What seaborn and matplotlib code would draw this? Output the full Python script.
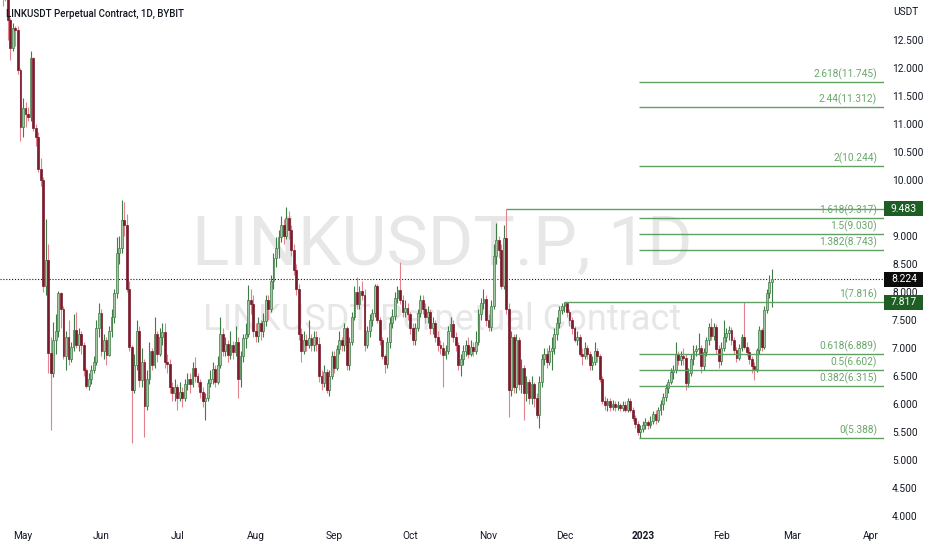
import matplotlib
matplotlib.use("Agg")
import matplotlib.pyplot as plt
import matplotlib.transforms as mtrans
from matplotlib.patches import Rectangle
from matplotlib.ticker import FormatStrFormatter
import numpy as np
import pandas as pd
import seaborn as sns

# daily candles, LINKUSDT perpetual, from 2022-04-22
dates = pd.date_range("2022-04-22", periods=306, freq="D")
first_open = 14.0
closes = [
    13.9, 13.8, 13.4, 12.85, 12.35, 12.72, 12.68, 11.97, 10.95, 11.29,
    11.18, 11.12, 12.18, 10.93, 10.77, 10.2, 10.0, 8.1, 8.57, 6.91,
    6.55, 7.14, 7.3, 7.98, 7.7, 6.85, 7.2, 6.8, 7.02, 7.32,
    7.05, 7.25, 7.05, 6.6, 6.32, 6.45, 6.6, 6.75, 7.35, 7.62,
    6.95, 7.15, 6.88, 7.3, 7.55, 7.98, 8.7, 8.78, 9.28, 9.2,
    8.05, 7.02, 6.25, 6.7, 7.3, 6.42, 6.75, 5.97, 6.45, 6.95,
    6.7, 7.25, 6.9, 7.2, 7.28, 6.75, 6.72, 6.3, 6.2, 6.3,
    6.1, 6.22, 6.1, 6.35, 6.45, 6.35, 6.65, 6.5, 6.4, 6.22,
    6.05, 6.1, 6.38, 6.45, 6.62, 6.4, 6.7, 7.25, 6.95, 7.08,
    6.88, 7.05, 6.92, 7.1, 6.45, 6.85, 7.18, 7.25, 7.85, 7.78,
    7.3, 7.22, 7.45, 7.3, 7.48, 7.86, 7.7, 8.2, 8.6, 8.78,
    8.98, 9.2, 9.0, 9.32, 9.1, 8.75, 8.4, 8.05, 7.25, 6.95,
    7.15, 7.05, 7.18, 7.05, 7.2, 7.08, 6.5, 6.38, 6.58, 6.25,
    6.5, 6.85, 6.65, 6.98, 7.15, 7.05, 7.35, 6.7, 7.1, 7.55,
    8.0, 7.78, 8.02, 7.95, 7.05, 7.3, 7.5, 7.62, 8.1, 7.5,
    7.15, 6.85, 6.72, 7.1, 7.45, 7.58, 7.9, 8.04, 7.86, 7.65,
    7.72, 7.6, 7.35, 7.15, 7.35, 7.62, 7.85, 7.7, 7.55, 7.65,
    7.35, 7.45, 7.2, 7.05, 7.0, 6.88, 6.95, 7.3, 7.42, 7.2,
    7.05, 6.7, 6.8, 6.95, 7.05, 6.9, 7.02, 6.95, 7.1, 7.6,
    7.8, 7.88, 7.5, 7.38, 7.75, 8.65, 8.93, 8.75, 8.1, 8.96,
    7.7, 6.25, 7.2, 6.3, 7.15, 6.35, 6.65, 6.2, 6.4, 6.1,
    6.35, 6.1, 5.8, 6.4, 6.8, 6.9, 6.75, 6.95, 7.0, 7.25,
    7.45, 7.68, 7.75, 7.8, 7.65, 7.5, 7.35, 7.15, 7.2, 6.9,
    6.85, 7.0, 6.9, 6.7, 6.75, 6.95, 6.85, 6.45, 6.05, 5.98,
    6.05, 5.95, 6.0, 5.95, 5.98, 5.93, 5.98, 5.9, 6.05, 5.9,
    5.75, 5.65, 5.5, 5.55, 5.62, 5.68, 5.62, 5.7, 5.82, 5.72,
    5.9, 6.0, 6.12, 6.28, 6.4, 6.58, 6.6, 6.9, 6.78, 6.85,
    6.82, 6.38, 6.55, 6.8, 6.95, 6.98, 7.0, 6.68, 6.92, 7.14,
    7.38, 7.22, 7.38, 6.98, 6.76, 7.0, 7.2, 7.27, 7.32, 7.14,
    6.96, 6.82, 7.0, 7.2, 7.02, 6.92, 6.8, 6.68, 6.62, 6.96,
    7.32, 7.02, 7.68, 7.98, 8.18, 8.224,
]
highs = [
    14.2, 14.1, 13.9, 13.5, 12.9, 12.8, 12.75, 12.75, 12.0, 11.46,
    11.4, 11.3, 12.3, 12.2, 11.0, 10.85, 10.4, 10.05, 9.3, 8.85,
    7.2, 7.46, 7.6, 8.02, 8.0, 7.75, 7.3, 7.5, 7.1, 7.6,
    7.65, 7.35, 7.3, 7.1, 6.65, 6.55, 6.7, 6.85, 7.5, 7.8,
    7.7, 7.25, 7.2, 7.4, 7.7, 8.05, 8.98, 9.0, 9.64, 9.6,
    9.4, 8.2, 7.05, 6.9, 7.5, 7.4, 7.0, 6.8, 6.6, 7.1,
    7.0, 7.55, 7.3, 7.35, 7.45, 7.45, 6.9, 6.8, 6.4, 6.45,
    6.35, 6.4, 6.3, 6.45, 6.55, 6.55, 6.75, 6.84, 6.55, 6.45,
    6.3, 6.2, 6.45, 6.6, 6.75, 6.7, 6.85, 7.55, 7.35, 7.2,
    7.15, 7.3, 7.12, 7.4, 7.2, 6.95, 7.25, 7.45, 8.13, 8.05,
    7.95, 7.45, 7.55, 7.5, 7.62, 7.95, 7.95, 8.3, 8.7, 8.98,
    9.1, 9.35, 9.3, 9.52, 9.45, 9.2, 8.85, 8.5, 8.15, 7.35,
    7.3, 7.25, 7.5, 7.25, 7.3, 7.3, 7.2, 6.6, 6.7, 6.62,
    6.6, 6.95, 6.95, 7.05, 7.3, 7.2, 7.45, 7.4, 7.2, 7.65,
    8.1, 8.27, 8.1, 8.2, 8.05, 7.4, 7.6, 7.7, 8.15, 8.15,
    7.55, 7.2, 6.9, 7.2, 7.55, 7.7, 8.0, 8.1, 8.54, 7.95,
    7.85, 7.8, 7.65, 7.45, 7.45, 7.7, 7.95, 7.95, 7.8, 7.75,
    7.7, 7.55, 7.5, 7.3, 7.15, 7.1, 7.05, 7.4, 7.55, 7.5,
    7.28, 7.1, 6.9, 7.05, 7.15, 7.2, 7.15, 7.1, 7.3, 7.7,
    7.9, 8.05, 7.95, 7.6, 7.85, 8.85, 9.23, 9.0, 8.85, 9.2,
    9.483, 7.8, 7.3, 7.25, 7.25, 7.2, 6.8, 6.7, 6.5, 6.45,
    6.5, 6.4, 6.2, 6.5, 6.9, 7.0, 7.0, 7.05, 7.2, 7.35,
    7.55, 7.75, 7.8, 7.816, 7.8, 7.7, 7.55, 7.4, 7.3, 7.25,
    7.0, 7.1, 7.05, 6.95, 6.85, 7.1, 7.0, 6.9, 6.5, 6.15,
    6.1, 6.1, 6.08, 6.05, 6.05, 6.02, 6.05, 6.05, 6.1, 6.1,
    5.95, 5.8, 5.7, 5.62, 5.7, 5.75, 5.72, 5.78, 5.88, 5.9,
    5.95, 6.08, 6.2, 6.35, 6.45, 6.65, 6.7, 7.11, 6.95, 6.95,
    7.0, 6.9, 6.65, 6.9, 7.05, 7.05, 7.27, 7.05, 7.0, 7.2,
    7.45, 7.54, 7.45, 7.42, 7.05, 7.1, 7.5, 7.35, 7.4, 7.38,
    7.2, 7.02, 7.08, 7.25, 7.82, 7.1, 7.0, 6.85, 6.75, 7.0,
    7.4, 7.35, 7.75, 8.05, 8.3, 8.41,
]
lows = [
    13.6, 13.1, 13.2, 12.5, 12.15, 12.3, 12.4, 11.9, 10.7, 10.77,
    10.95, 11.05, 11.05, 10.88, 10.6, 10.15, 9.9, 8.0, 7.95, 6.55,
    5.54, 6.48, 6.9, 7.2, 7.35, 6.8, 6.6, 6.7, 6.75, 6.95,
    7.0, 6.95, 6.9, 6.5, 6.28, 6.25, 6.35, 6.55, 6.7, 7.2,
    6.85, 6.8, 6.7, 6.85, 7.2, 7.45, 7.9, 8.5, 8.7, 9.0,
    8.0, 6.95, 5.3, 6.2, 6.6, 6.3, 6.3, 5.41, 5.9, 6.35,
    6.6, 6.65, 6.75, 6.85, 7.05, 6.65, 6.55, 6.2, 6.05, 6.05,
    5.9, 6.05, 5.95, 6.05, 6.25, 6.2, 6.3, 6.4, 6.3, 6.1,
    5.95, 5.71, 6.05, 6.3, 6.35, 6.3, 6.35, 6.65, 6.85, 6.85,
    6.75, 6.8, 6.8, 6.85, 6.1, 6.3, 6.75, 7.0, 7.2, 7.6,
    7.2, 7.1, 7.1, 7.15, 7.2, 7.4, 7.5, 7.65, 8.05, 8.45,
    8.6, 8.9, 8.85, 8.95, 8.95, 8.65, 8.3, 7.95, 7.15, 6.75,
    6.9, 6.95, 7.0, 6.95, 6.95, 6.95, 6.4, 6.25, 6.3, 6.2,
    6.15, 6.45, 6.55, 6.6, 6.9, 6.95, 6.95, 6.6, 6.6, 7.05,
    7.5, 7.7, 7.7, 7.85, 6.95, 7.0, 7.2, 7.4, 7.55, 7.45,
    7.05, 6.8, 6.55, 6.65, 7.0, 7.35, 7.5, 7.8, 7.78, 7.55,
    7.55, 7.5, 7.25, 7.05, 7.05, 7.3, 7.55, 7.6, 7.45, 7.45,
    7.25, 7.25, 7.1, 6.95, 6.9, 6.3, 6.8, 6.9, 7.2, 7.1,
    6.95, 6.6, 6.5, 6.7, 6.85, 6.82, 6.85, 6.85, 6.9, 7.05,
    7.5, 7.7, 7.4, 7.3, 7.3, 7.7, 8.5, 8.6, 8.05, 8.05,
    7.6, 5.77, 6.15, 6.2, 6.2, 6.25, 6.2, 5.71, 6.05, 6.0,
    6.0, 5.95, 5.75, 5.57, 6.3, 6.7, 6.65, 6.7, 6.6, 6.9,
    7.15, 7.35, 7.6, 7.65, 7.55, 7.4, 7.25, 7.1, 7.05, 6.85,
    6.7, 6.8, 6.8, 6.6, 6.6, 6.7, 6.75, 6.4, 6.0, 5.9,
    5.88, 5.88, 5.9, 5.88, 5.9, 5.88, 5.88, 5.85, 5.85, 5.85,
    5.7, 5.58, 5.45, 5.388, 5.5, 5.55, 5.55, 5.58, 5.65, 5.65,
    5.68, 5.8, 5.9, 6.05, 6.2, 6.35, 6.45, 6.55, 6.7, 6.7,
    6.7, 6.25, 6.3, 6.5, 6.7, 6.85, 6.88, 6.55, 6.6, 6.85,
    7.05, 7.15, 7.15, 6.9, 6.65, 6.7, 6.95, 7.1, 7.15, 7.05,
    6.9, 6.75, 6.78, 6.95, 6.98, 6.85, 6.72, 6.55, 6.43, 6.58,
    6.9, 6.95, 6.98, 7.62, 7.9, 7.73,
]

# fibonacci extension drawn on the chart
fib_coefs = ["0", "0.382", "0.5", "0.618", "1", "1.382", "1.5", "1.618", "2", "2.44", "2.618"]
fib_prices = [5.388, 6.315, 6.602, 6.889, 7.816, 8.743, 9.030, 9.317, 10.244, 11.312, 11.745]
fib_start = "2022-12-30 12:00"
level1_start = "2022-12-01"
peak_start = "2022-11-08"
peak_price = 9.483
last_price = 8.224
level1_tag = 7.817

price_ticks = [4.0, 4.5, 5.0, 5.5, 6.0, 6.5, 7.0, 7.5, 8.0, 8.5, 9.0,
               10.0, 10.5, 11.0, 11.5, 12.0, 12.5]
month_ticks = ["2022-05-01", "2022-06-01", "2022-07-01", "2022-08-01", "2022-09-01",
               "2022-10-01", "2022-11-01", "2022-12-01", "2023-01-01", "2023-02-01",
               "2023-03-01", "2023-04-01"]
month_labels = ["May", "Jun", "Jul", "Aug", "Sep", "Oct", "Nov", "Dec", "2023", "Feb", "Mar", "Apr"]

UP_BODY, UP_LINE = "#a2c8a2", "#3e7d45"
DN_BODY, DN_LINE = "#7a1a2a", "#e3838f"
FIB = "#5f9f62"
TXT = "#131722"

sns.set_theme(style="white")
plt.rcParams["font.family"] = ["Roboto", "DejaVu Sans"]

df = pd.DataFrame({"date": dates, "close": closes, "high": highs, "low": lows})
df["open"] = df["close"].shift(1).fillna(first_open)
up = df["close"] >= df["open"]
dn = ~up

W, H = 932, 550
fig = plt.figure(figsize=(W / 100, H / 100), dpi=100)
fig.patch.set_facecolor("white")
ax = fig.add_axes([0, 27 / H, 884 / W, 523 / H])
ax.set_facecolor("white")

x_left = dates[0] - pd.Timedelta(hours=2)
x_right = dates[0] + pd.Timedelta(days=349.3)
ax.set_xlim(x_left, x_right)
ax.set_ylim(3.875, 13.214)

# watermark
ax.text(442 / W, 1 - 265 / H, "LINKUSDT.P, 1D", transform=fig.transFigure, ha="center",
        va="baseline", fontsize=50, color="#e7e7e7", zorder=0.5)
ax.text(442 / W, 1 - 330 / H, "LINKUSDT Perpetual Contract", transform=fig.transFigure,
        ha="center", va="baseline", fontsize=26, color="#e7e7e7", zorder=0.5)

# candles
for mask, body, line in [(up, UP_BODY, UP_LINE), (dn, DN_BODY, DN_LINE)]:
    d = df[mask]
    ax.vlines(d["date"], d["low"], d["high"], color=line, lw=0.8, zorder=2)
    height = np.maximum((d["close"] - d["open"]).abs(), 0.025)
    ax.bar(d["date"], height, bottom=np.minimum(d["open"], d["close"]), width=0.72,
           color=body, edgecolor=line if mask is up else body, linewidth=0.5, zorder=3)

# last price dotted line
ax.axhline(last_price, color=TXT, lw=0.8, ls=(0, (1, 1.6)), zorder=1.5)

# fib levels, peak ray and level-1 ray
lab = mtrans.offset_copy(ax.transData, fig=fig, x=-7, y=2, units="dots")
for coef, price in zip(fib_coefs, fib_prices):
    start = pd.Timestamp(level1_start) if coef == "1" else pd.Timestamp(fib_start)
    ax.hlines(price, start, x_right, color=FIB, lw=1.0, zorder=4)
    ax.text(x_right, price, f"{coef}({price:.3f})", transform=lab, ha="right", va="bottom",
            fontsize=7.3, color="#6aa66c", zorder=5)
ax.hlines(peak_price, pd.Timestamp(peak_start), x_right, color=FIB, lw=1.0, zorder=4)

# axes styling
sns.despine(ax=ax, left=True, bottom=True, right=True, top=True)
ax.grid(False)
ax.yaxis.tick_right()
ax.set_yticks(price_ticks)
ax.yaxis.set_major_formatter(FormatStrFormatter("%.3f"))
ax.tick_params(axis="y", length=0, pad=5.8, labelsize=7.3, labelcolor=TXT)
ax.set_xticks(pd.to_datetime(month_ticks))
ax.set_xticklabels(month_labels)
ax.tick_params(axis="x", length=0, pad=6, labelsize=7.3, labelcolor=TXT)
for t in ax.get_xticklabels():
    if t.get_text() == "2023":
        t.set_fontweight("bold")

# price tags on the scale
tag = mtrans.blended_transform_factory(fig.transFigure, ax.transData)
box_h = 15 / 56
for price, color in [(peak_price, "#1e5e25"), (last_price, "#0b0b0b"), (level1_tag, "#1e5e25")]:
    fig.add_artist(Rectangle((884 / W, price - box_h / 2), 39 / W, box_h, transform=tag,
                             facecolor=color, edgecolor="none", zorder=6))
    fig.text(904 / W, price, f"{price:.3f}", transform=tag, ha="center", va="center",
             fontsize=7.5, color="white", zorder=7)

fig.text(6 / W, 1 - 14 / H, "LINKUSDT Perpetual Contract, 1D, BYBIT", ha="left", va="center",
         fontsize=7, fontweight="medium", color=TXT)
fig.text(893 / W, 1 - 12 / H, "USDT", ha="left", va="center", fontsize=7.3, color=TXT)

fig.savefig("out.png", dpi=100, facecolor="white")
